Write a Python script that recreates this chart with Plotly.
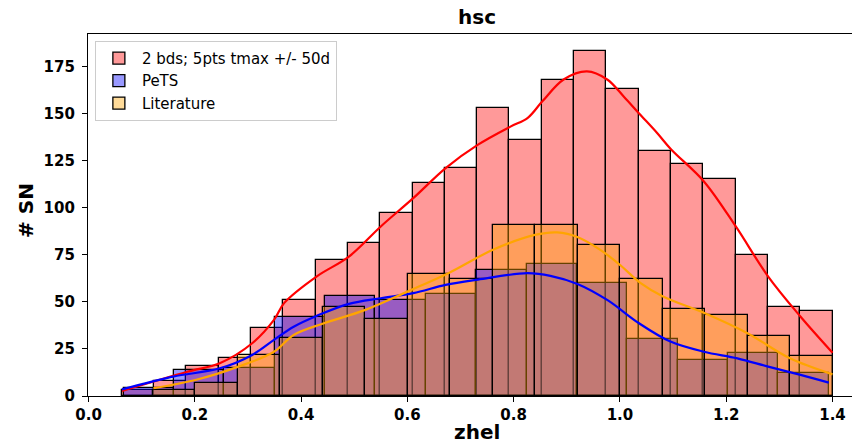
import numpy as np
import plotly.graph_objects as go

# ---------------- data ----------------
red_label = "2 bds; 5pts tmax +/- 50d"
blue_label = "PeTS"
orange_label = "Literature"

red_range = (0.0625, 1.400)
red_counts = [3, 8, 16, 20, 36, 51, 72, 81, 97, 113, 121, 153, 136, 168,
              183, 163, 130, 123, 115, 75, 47, 45]

blue_range = (0.066, 1.393)
blue_counts = [4, 14, 15, 42, 53, 51, 54, 67, 70, 60, 30, 19, 23, 12]

orange_range = (0.121, 1.400)
orange_counts = [3, 7, 22, 31, 47, 41, 65, 62, 91, 91, 80, 62, 46, 43, 32, 21]

red_kde_x = [0.063, 0.186, 0.247, 0.308, 0.349, 0.368, 0.429, 0.490, 0.550,
             0.611, 0.672, 0.733, 0.794, 0.826, 0.854, 0.894, 0.938, 0.976,
             1.007, 1.036, 1.070, 1.096, 1.158, 1.218, 1.279, 1.340, 1.400]
red_kde_y = [2.7, 12.9, 17.4, 28.0, 40.4, 49.3, 63.4, 74.0, 90.0,
             105.0, 121.0, 133.4, 143.0, 147.5, 156.4, 168.0, 172.3, 168.0,
             159.0, 150.0, 139.6, 131.0, 113.9, 90.0, 63.4, 42.1, 23.0]

blue_kde_x = [0.063, 0.159, 0.247, 0.308, 0.349, 0.386, 0.429, 0.490, 0.550,
              0.611, 0.672, 0.733, 0.826, 0.869, 0.920, 0.976, 1.036, 1.095,
              1.158, 1.221, 1.279, 1.340, 1.393]
blue_kde_y = [3.5, 10.3, 14.7, 21.8, 29.8, 36.8, 42.5, 48.9, 51.9,
              54.6, 59.0, 61.8, 65.2, 63.8, 59.5, 51.0, 38.6, 28.9,
              23.5, 20.0, 15.6, 11.2, 7.1]

orange_kde_x = [0.122, 0.201, 0.282, 0.349, 0.386, 0.443, 0.521, 0.600, 0.678,
                0.761, 0.840, 0.882, 0.921, 0.963, 1.000, 1.039, 1.081, 1.160,
                1.240, 1.320, 1.400]
orange_kde_y = [4.1, 8.5, 15.6, 23.5, 32.4, 38.6, 45.7, 55.4, 65.3,
                77.6, 85.5, 86.8, 84.3, 77.6, 69.6, 59.9, 52.8, 43.9,
                33.3, 20.0, 11.5]

x_ticks = [0.0, 0.2, 0.4, 0.6, 0.8, 1.0, 1.2, 1.4]
y_ticks = [0, 25, 50, 75, 100, 125, 150, 175]

# ---------------- figure ----------------
FONT = "DejaVu Sans"

def bars(rng, counts, fill, name):
    edges = np.linspace(rng[0], rng[1], len(counts) + 1)
    centers = (edges[:-1] + edges[1:]) / 2
    widths = np.diff(edges)
    return go.Bar(x=centers, y=counts, width=widths, name=name,
                  marker=dict(color=fill, line=dict(color="black", width=1.3)),
                  legendgroup=name)

fig = go.Figure()
fig.add_trace(bars(red_range, red_counts, "rgba(255,0,0,0.4)", red_label))
fig.add_trace(bars(blue_range, blue_counts, "rgba(0,0,255,0.4)", blue_label))
fig.add_trace(bars(orange_range, orange_counts, "rgba(255,165,0,0.4)", orange_label))

for xs, ys, col in [(red_kde_x, red_kde_y, "red"),
                    (blue_kde_x, blue_kde_y, "blue"),
                    (orange_kde_x, orange_kde_y, "orange")]:
    fig.add_trace(go.Scatter(x=xs, y=ys, mode="lines", showlegend=False,
                             line=dict(color=col, width=2.2, shape="spline", smoothing=1.0)))

fig.update_layout(
    width=852, height=446,
    margin=dict(l=88, r=0, t=34, b=50),
    barmode="overlay", bargap=0,
    plot_bgcolor="white", paper_bgcolor="white",
    font=dict(family=FONT, color="black"),
    legend=dict(x=0.009, y=0.981, xanchor="left", yanchor="top",
                bgcolor="white", bordercolor="rgb(204,204,204)", borderwidth=1,
                font=dict(family=FONT, size=15), tracegroupgap=0, itemwidth=36),
    xaxis=dict(range=[-0.001, 1.4367], tickvals=x_ticks,
               ticktext=[f"{v:.1f}" for v in x_ticks],
               showline=True, linecolor="black", linewidth=1.2, mirror=True,
               ticks="outside", ticklen=5, tickcolor="black", showgrid=False,
               zeroline=False, tickfont=dict(family=FONT, size=15, weight="bold")),
    yaxis=dict(range=[0, 192.15], tickvals=y_ticks,
               showline=True, linecolor="black", linewidth=1.2,
               ticks="outside", ticklen=5, tickcolor="black", showgrid=False,
               zeroline=False, ticklabelstandoff=4,
               tickfont=dict(family=FONT, size=15, weight="bold")),
    annotations=[
        dict(text="<b>hsc</b>", x=0.509, y=1.047, xref="paper", yref="paper",
             xanchor="center", yanchor="middle", showarrow=False,
             font=dict(family=FONT, size=20)),
        dict(text="<b>zhel</b>", x=0.509, y=-0.0994, xref="paper", yref="paper",
             xanchor="center", yanchor="middle", showarrow=False,
             font=dict(family=FONT, size=20)),
        dict(text="<b># SN</b>", x=-0.0812, y=0.514, xref="paper", yref="paper",
             xanchor="center", yanchor="middle", showarrow=False, textangle=-90,
             font=dict(family=FONT, size=20)),
    ],
)

fig.write_html("out.html")
